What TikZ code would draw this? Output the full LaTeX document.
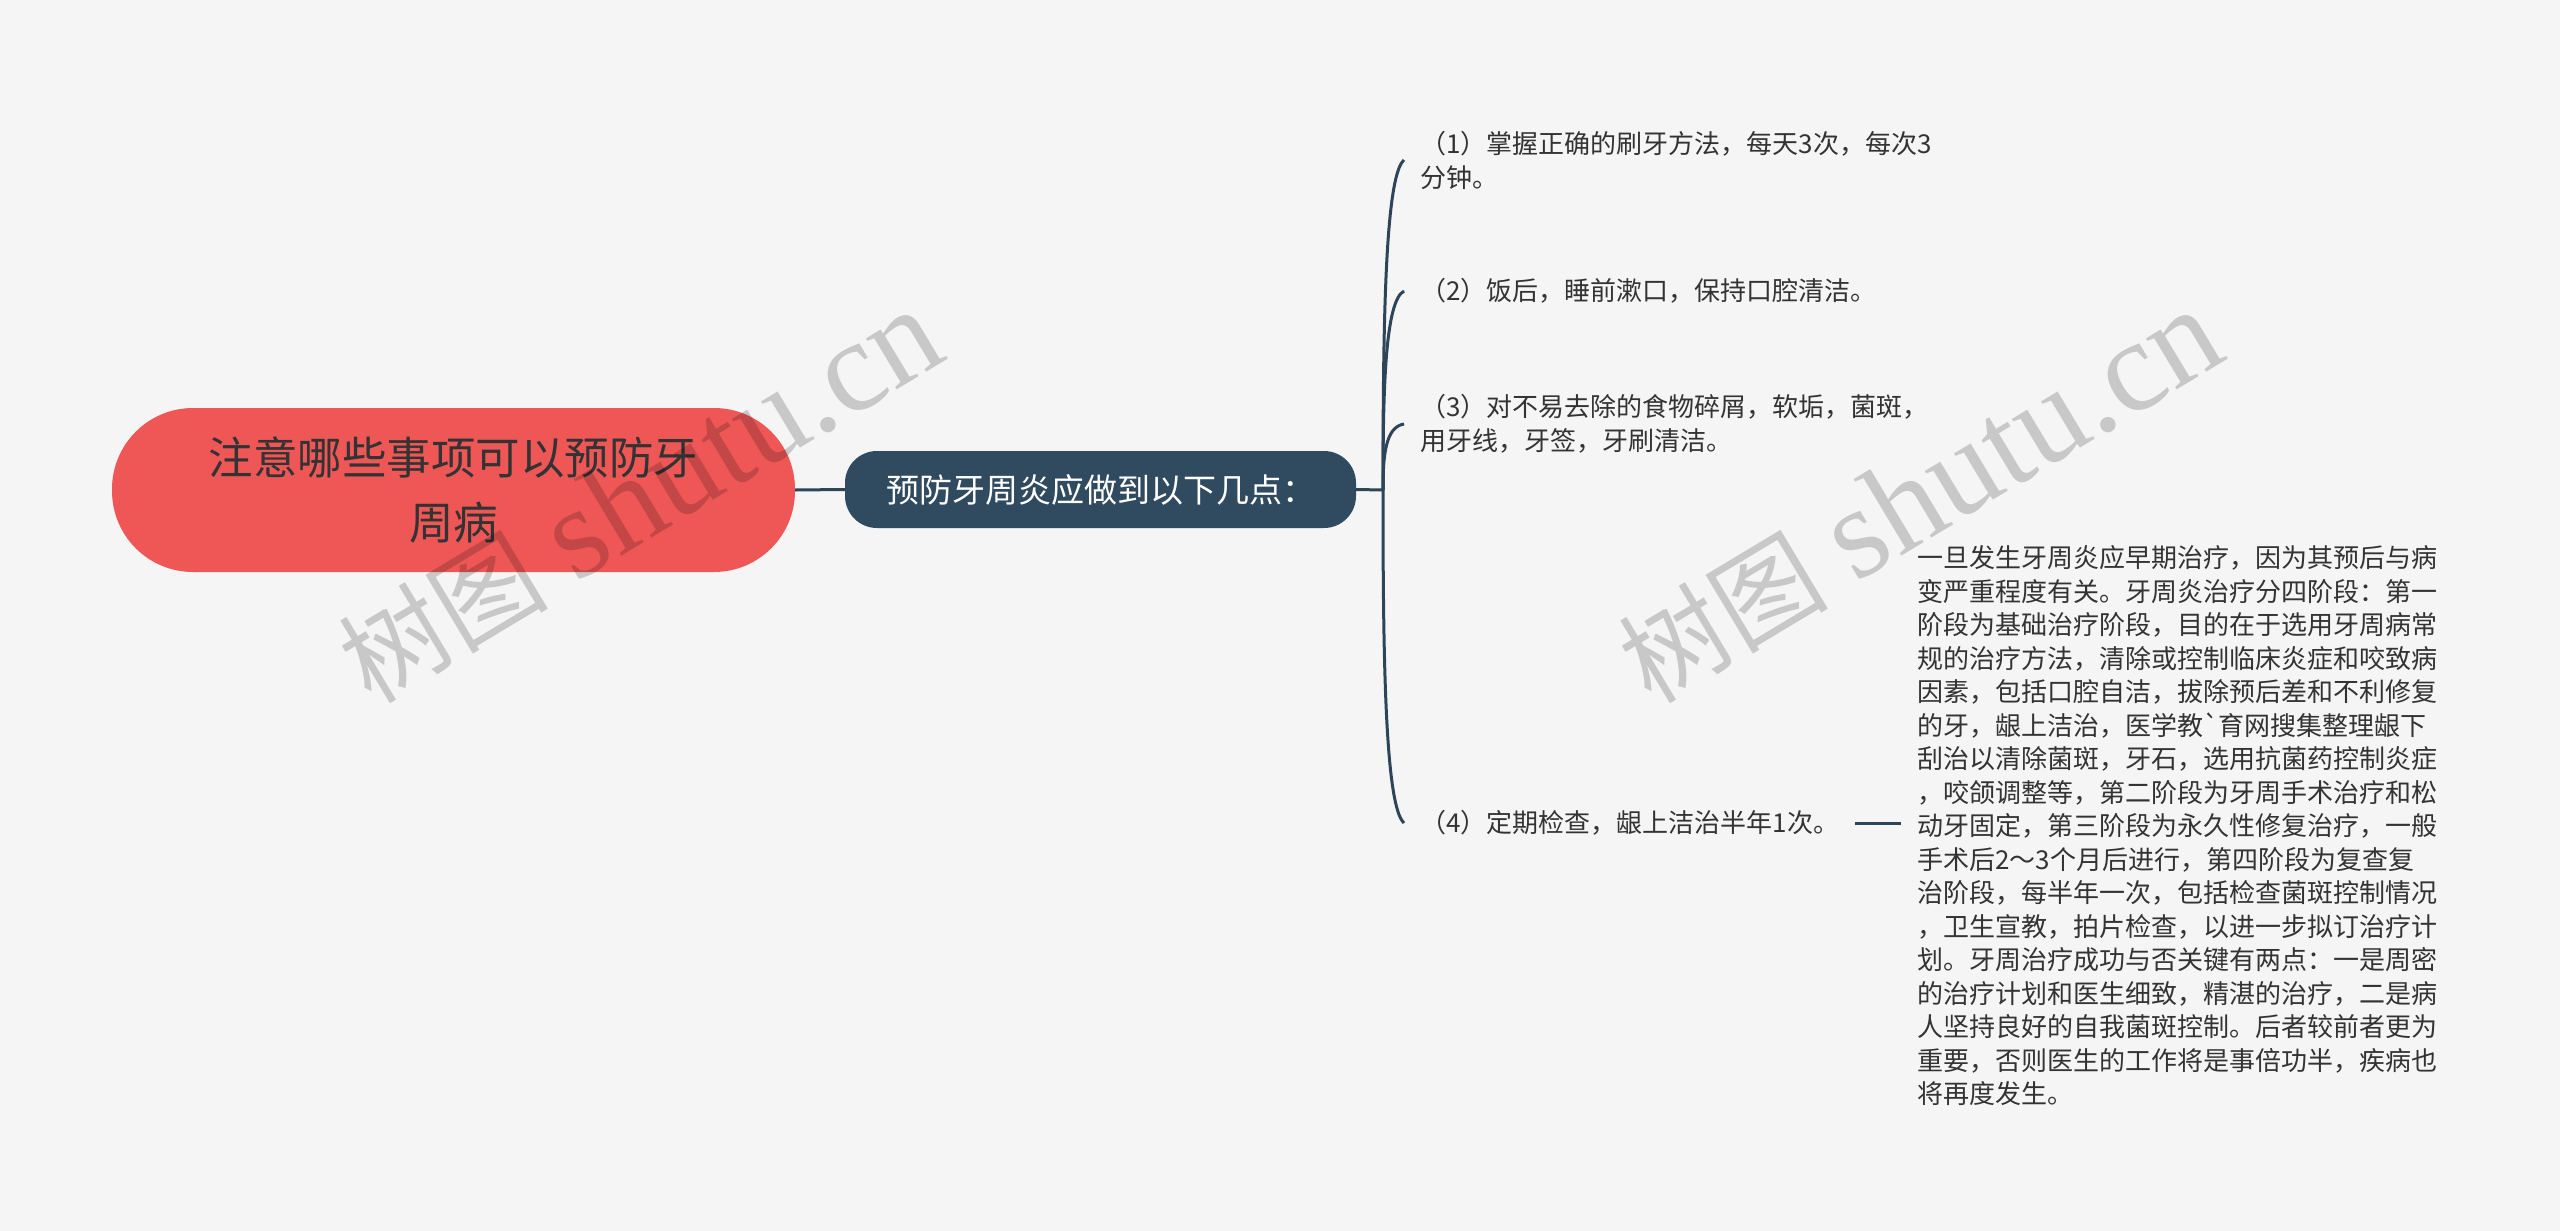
\documentclass[tikz,border=0pt]{standalone}
\usepackage{fontspec}
\newfontfamily\cjk{Noto Sans CJK SC}
\newfontfamily\wmlatin{Liberation Serif}
\definecolor{bgc}{HTML}{F5F5F5}
\definecolor{rootc}{HTML}{EF5757}
\definecolor{mainc}{HTML}{304A60}
\definecolor{linec}{HTML}{2E4459}
\definecolor{txtc}{HTML}{333333}
\begin{document}
\begin{tikzpicture}[x=1pt,y=-1pt,
  conn/.style={draw=linec,line width=3pt},
  leaf/.style={anchor=west,inner xsep=16pt,inner ysep=0pt,align=left,text=txtc,font=\cjk\fontsize{26}{34}\selectfont},
  wm/.style={text=black,opacity=0.18,rotate=31,inner sep=0pt}]
\useasboundingbox (0,0) rectangle (2560,1231);
\fill[bgc] (0,0) rectangle (2560,1231);

\node[fill=rootc, rounded corners=81pt, minimum width=683pt, minimum height=164pt, inner sep=0pt,
  align=center, text=txtc, font=\cjk\fontsize{44.5}{65}\selectfont] (root) at (453.5,490) {注意哪些事项可以预防牙\\周病};
\node[fill=mainc, rounded corners=32pt, minimum width=511pt, minimum height=77pt, inner sep=0pt,
  text=white, font=\cjk\fontsize{33}{40}\selectfont] (main) at (1100.5,489.5) {预防牙周炎应做到以下几点：};
\coordinate (sp) at (1383,490);

\node[leaf] (c1) at (1404,160) {（1）掌握正确的刷牙方法，每天3次，每次3\\分钟。};
\node[leaf] (c2) at (1404,291) {（2）饭后，睡前漱口，保持口腔清洁。};
\node[leaf] (c3) at (1404,424) {（3）对不易去除的食物碎屑，软垢，菌斑，\\用牙线，牙签，牙刷清洁。};
\node[leaf] (c4) at (1404,823) {（4）定期检查，龈上洁治半年1次。};
\node[leaf, font=\cjk\fontsize{26}{33.5}\selectfont] (det) at (1901,826) {一旦发生牙周炎应早期治疗，因为其预后与病\\
变严重程度有关。牙周炎治疗分四阶段：第一\\
阶段为基础治疗阶段，目的在于选用牙周病常\\
规的治疗方法，清除或控制临床炎症和咬致病\\
因素，包括口腔自洁，拔除预后差和不利修复\\
的牙，龈上洁治，医学教`育网搜集整理龈下\\
刮治以清除菌斑，牙石，选用抗菌药控制炎症\\
，咬颌调整等，第二阶段为牙周手术治疗和松\\
动牙固定，第三阶段为永久性修复治疗，一般\\
手术后2～3个月后进行，第四阶段为复查复\\
治阶段，每半年一次，包括检查菌斑控制情况\\
，卫生宣教，拍片检查，以进一步拟订治疗计\\
划。牙周治疗成功与否关键有两点：一是周密\\
的治疗计划和医生细致，精湛的治疗，二是病\\
人坚持良好的自我菌斑控制。后者较前者更为\\
重要，否则医生的工作将是事倍功半，疾病也\\
将再度发生。};

\draw[conn] (root.east) -- (main.west);
\draw[conn] (main.east) -- (sp);
\draw[conn] (sp) .. controls (1383,325) and (1385,176) .. (c1.west);
\draw[conn] (sp) .. controls (1383,390) and (1385,301) .. (c2.west);
\draw[conn] (sp) .. controls (1383,457) and (1385,427) .. (c3.west);
\draw[conn] (sp) .. controls (1383,656) and (1385,806) .. (c4.west);
\draw[conn] (c4.east) -- (c4.east -| det.west);

\node[wm] (wm1) at (640,497) {{\cjk\fontsize{105}{105}\selectfont 树图}\hspace{28pt}{\wmlatin\fontsize{130}{130}\selectfont shutu.cn}};
\node[wm] (wm2) at (1920,497) {{\cjk\fontsize{105}{105}\selectfont 树图}\hspace{28pt}{\wmlatin\fontsize{130}{130}\selectfont shutu.cn}};
\end{tikzpicture}
\end{document}
